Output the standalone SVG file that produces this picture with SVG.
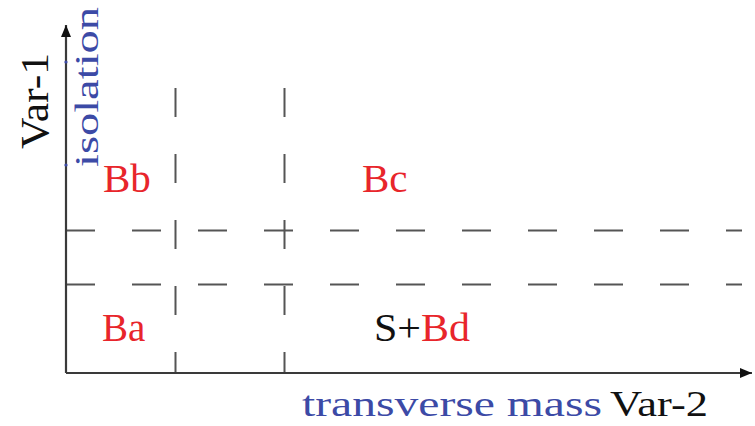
<svg xmlns="http://www.w3.org/2000/svg" width="755" height="426" viewBox="0 0 755 426">
<style>
.t { font-family: 'Liberation Serif', 'Times New Roman', Times, serif; }
.red { fill: #e8252b; }
.blue { fill: #3c4aa6; }
.blk { fill: #111; }
.axis { stroke: #3a3a3a; stroke-width: 2.2; fill: none; }
.dash { stroke: #555; stroke-width: 2; fill: none; stroke-dasharray: 29 37; }
</style>
<defs>
<marker id="arr" markerWidth="14" markerHeight="12" refX="12" refY="6" orient="auto" markerUnits="userSpaceOnUse">
<path d="M0,1 L12,6 L0,11 Z" fill="#111"/>
</marker>
</defs>
<rect width="755" height="426" fill="#ffffff"/>
<g id="connectors">
<line class="dash" x1="66" y1="230.5" x2="742" y2="230.5"/>
<line class="dash" x1="66" y1="284.5" x2="742" y2="284.5"/>
<line class="dash" x1="175.5" y1="88" x2="175.5" y2="373"/>
<line class="dash" x1="284.5" y1="88" x2="284.5" y2="373"/>
<line class="axis" x1="66" y1="373" x2="66" y2="25" marker-end="url(#arr)"/>
<line class="axis" x1="66" y1="373" x2="752" y2="373" marker-end="url(#arr)"/>
<circle cx="66" cy="62" r="1.6" fill="#3c4aa6"/>
<circle cx="66" cy="165" r="1.6" fill="#3c4aa6"/>
</g>
<g id="yaxis-label">
<text class="t blk" font-size="41" textLength="96" lengthAdjust="spacingAndGlyphs" transform="translate(48,149) rotate(-90)">Var-1</text>
<text class="t blue" font-size="33" textLength="160" lengthAdjust="spacingAndGlyphs" transform="translate(98,167) rotate(-90)">isolation</text>
</g>
<g id="xaxis-label">
<text class="t blue" x="302" y="416" font-size="36" textLength="300" lengthAdjust="spacingAndGlyphs">transverse mass</text>
<text class="t blk" x="610" y="416" font-size="36" textLength="98" lengthAdjust="spacingAndGlyphs">Var-2</text>
</g>
<g id="Bb"><text class="t red" x="103" y="192" font-size="41">Bb</text></g>
<g id="Bc"><text class="t red" x="362" y="192" font-size="41">Bc</text></g>
<g id="Ba"><text class="t red" x="102" y="341" font-size="39">Ba</text></g>
<g id="SBd"><text class="t" x="374" y="341" font-size="41" textLength="96" lengthAdjust="spacingAndGlyphs"><tspan class="blk">S+</tspan><tspan class="red">Bd</tspan></text></g>
</svg>
